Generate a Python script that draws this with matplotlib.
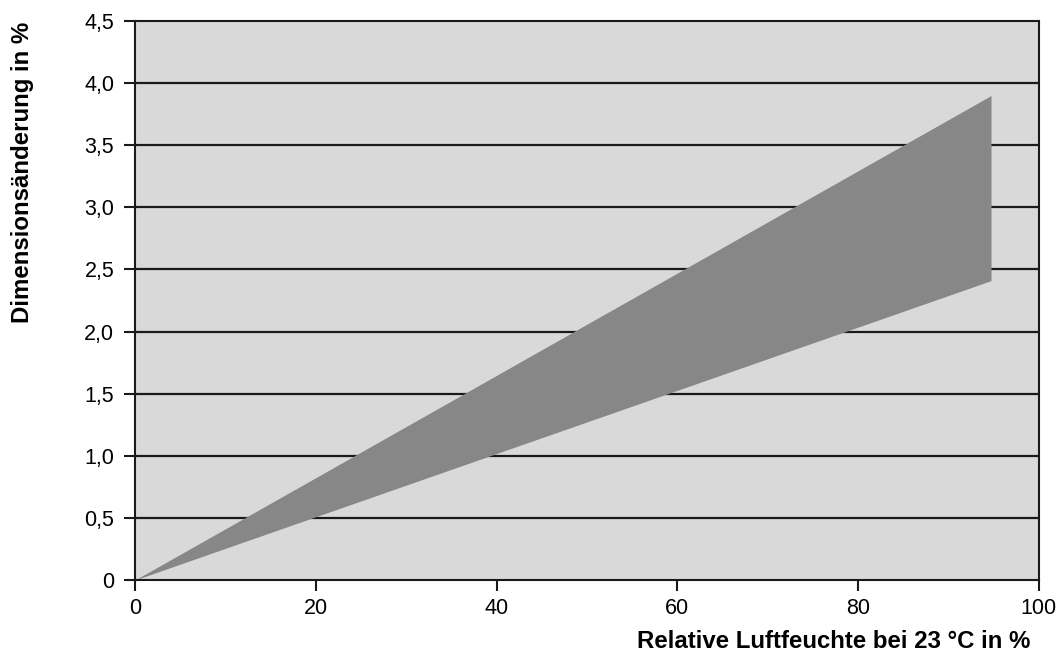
import matplotlib
matplotlib.use("Agg")
import matplotlib.pyplot as plt

plt.rcParams['font.family'] = ['Liberation Sans', 'DejaVu Sans']

# band of dimension change vs. relative humidity
rh = [0, 94.7]
upper = [0, 3.9]
lower = [0, 2.41]

x_ticks = [0, 20, 40, 60, 80, 100]
y_ticks = [0, 0.5, 1.0, 1.5, 2.0, 2.5, 3.0, 3.5, 4.0, 4.5]
y_tick_labels = ["0", "0,5", "1,0", "1,5", "2,0", "2,5", "3,0", "3,5", "4,0", "4,5"]

fig = plt.figure(figsize=(10.61, 6.59), dpi=100)
ax = fig.add_axes([0.1272, 0.1199, 0.852, 0.8482])
ax.set_facecolor("#d9d9d9")

ax.fill_between(rh, lower, upper, color="#878787", linewidth=0, zorder=3)

for y in y_ticks[1:-1]:
    ax.axhline(y, color="#1a1a1a", linewidth=1.6, zorder=2)

ax.set(
    xlim=(0, 100),
    ylim=(0, 4.5),
)
ax.set_xticks(x_ticks)
ax.set_yticks(y_ticks)
ax.set_yticklabels(y_tick_labels)
ax.tick_params(direction="out", length=8, width=1.5, labelsize=15.5, color="#1a1a1a", pad=5)
ax.tick_params(axis="y", pad=7)
for s in ax.spines.values():
    s.set_linewidth(1.5)
    s.set_color("#1a1a1a")
    s.set_zorder(4)

fig.text(0.021, 0.967, "Dimensionsänderung in %", rotation=90, ha="center", va="top",
         fontsize=17.3, fontweight="bold")
fig.text(0.971, 0.027, "Relative Luftfeuchte bei 23 °C in %", ha="right", va="center",
         fontsize=17.3, fontweight="bold")

fig.savefig("out.png", dpi=100)
